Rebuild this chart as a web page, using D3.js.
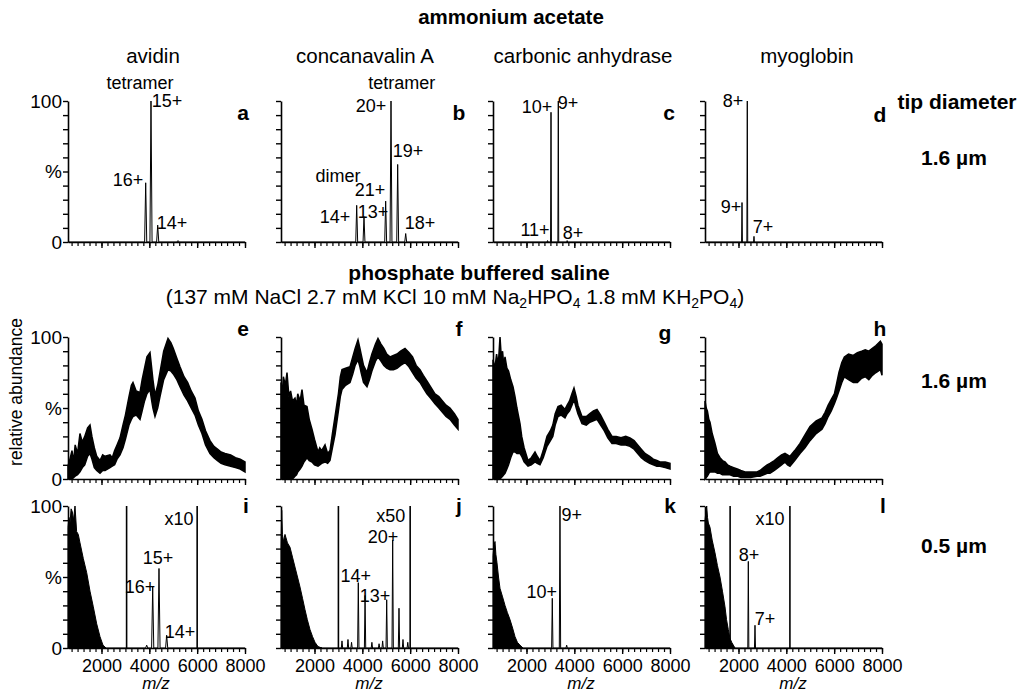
<!DOCTYPE html>
<html><head><meta charset="utf-8">
<script src="https://cdn.jsdelivr.net/npm/d3@7"></script>
<style>
body{margin:0;background:#fff}
svg text{font-family:"Liberation Sans",Arial,sans-serif;fill:#000}
</style>
</head><body>
<svg id="chart" width="1021" height="696"></svg>
<script>
// ---------------- DATA ----------------
const mzDomain = [600, 8000];
const xTickLabels = [2000, 4000, 6000, 8000];
const yTickValues = [0, 10, 20, 30, 40, 50, 60, 70, 80, 90, 100];
const columnNames = ["avidin", "concanavalin A", "carbonic anhydrase", "myoglobin"];
const panelLetters = ["a","b","c","d","e","f","g","h","i","j","k","l"];
const rowLabels = ["1.6 µm", "1.6 µm", "0.5 µm"];

// Row 1 (ammonium acetate) peaks: [m/z, relative %]
const peaksA = [[3848, 42], [4070, 100], [4350, 12], [5200, 1]];
const peaksB = [[3765, 26], [4070, 18], [4976, 29], [5199, 100], [5478, 55], [5813, 6]];
const peaksC = [[2880, 1], [3025, 92], [3330, 100], [3700, 1]];
const peaksD = [[2147, 28], [2368, 100], [2648, 4]];

// Row 2 (PBS, 1.6 µm) signal bands: [m/z, upper %, lower %]
const bandE = [[600,9,0],[680,14,0],[767,20,0],[830,12,1],[900,24,2],[1000,18,3],[1100,32,5],[1200,26,8],[1300,30,10],[1420,36,16],[1520,38,18],[1600,30,14],[1700,22,8],[1800,16,6],[1938,13,4],[2050,17,6],[2150,16,6],[2356,17,8],[2450,15,9],[2550,20,10],[2650,24,14],[2774,29,17],[2900,38,22],[3000,45,28],[3150,58,38],[3250,66,42],[3317,68,44],[3450,62,45],[3610,61,42],[3700,70,48],[3800,78,55],[3900,86,60],[4028,89,63],[4100,78,55],[4150,70,50],[4237,59,44],[4350,66,50],[4446,75,58],[4600,90,70],[4781,99,77],[4900,96,76],[5000,92,74],[5150,85,70],[5282,79,65],[5450,72,59],[5600,68,55],[5750,62,50],[5909,57,45],[6050,48,38],[6200,42,32],[6350,34,24],[6536,27,18],[6700,23,15],[6850,21,13],[7000,19,11],[7164,18,10],[7400,17,9],[7600,15,8],[7800,14,7],[8000,12,5]];
const bandF = [[600,68,0],[650,60,0],[700,72,0],[780,66,0],[851,75,0],[930,58,0],[1000,62,0],[1080,55,0],[1185,57,2],[1250,52,3],[1300,60,5],[1400,55,7],[1478,63,9],[1560,52,12],[1687,51,15],[1780,42,13],[1896,35,12],[2000,28,10],[2147,19,9],[2220,22,10],[2300,20,11],[2440,24,12],[2550,18,11],[2648,20,13],[2750,32,22],[2858,44,31],[3000,60,48],[3080,72,58],[3150,77,63],[3300,78,66],[3485,79,68],[3600,86,74],[3700,92,80],[3819,98,84],[3900,92,79],[3950,88,75],[4050,80,68],[4195,75,65],[4300,82,70],[4400,88,76],[4550,95,83],[4655,99,86],[4780,95,83],[4900,92,80],[5020,88,78],[5157,86,77],[5300,87,77],[5450,88,78],[5600,90,80],[5784,92,82],[5950,89,79],[6100,86,75],[6250,80,71],[6411,77,68],[6550,73,64],[6700,69,60],[6850,65,57],[7038,60,53],[7200,58,50],[7350,55,47],[7500,52,44],[7665,50,42],[7850,46,38],[8000,42,35]];
const bandG = [[600,84,0],[680,78,0],[750,88,0],[820,80,0],[893,100,0],[950,85,1],[1000,90,2],[1050,80,3],[1102,86,4],[1180,78,7],[1250,76,10],[1340,70,15],[1436,65,19],[1520,58,19],[1600,50,18],[1729,39,18],[1800,30,16],[1900,22,12],[2063,13,9],[2200,15,10],[2356,19,12],[2450,16,11],[2565,13,10],[2700,20,15],[2858,30,23],[3000,34,27],[3100,38,30],[3200,46,38],[3317,51,44],[3450,52,45],[3610,49,43],[3700,52,46],[3800,55,48],[3900,60,52],[3986,64,56],[4080,58,50],[4150,52,46],[4321,44,39],[4500,44,38],[4650,46,40],[4800,48,41],[4948,49,42],[5100,45,38],[5250,40,34],[5400,35,29],[5575,30,25],[5750,30,25],[5950,29,24],[6150,30,24],[6327,29,23],[6500,27,21],[6650,24,18],[6800,21,15],[6955,18,13],[7150,16,11],[7300,14,10],[7450,13,9],[7582,12,9],[7800,12,8],[8000,11,7]];
const bandH = [[600,55,0],[650,50,1],[700,48,2],[760,42,4],[809,40,5],[900,32,5],[1018,25,5],[1120,18,4],[1227,15,4],[1330,13,3],[1436,12,3],[1540,10,3],[1645,9,3],[1800,8,2],[1950,7,2],[2100,6,1],[2272,5,1],[2500,5,1],[2774,5,2],[2900,6,2],[3050,8,3],[3200,10,4],[3317,11,4],[3500,13,6],[3650,15,8],[3800,17,10],[3944,18,12],[4050,17,10],[4153,16,9],[4350,20,13],[4572,25,18],[4780,31,22],[4990,37,27],[5250,41,32],[5491,43,35],[5620,47,39],[5750,52,44],[5880,56,48],[6009,60,53],[6100,67,57],[6200,75,62],[6320,82,68],[6427,86,72],[6600,88,70],[6800,87,68],[6971,89,68],[7150,90,71],[7300,91,72],[7450,90,70],[7598,92,73],[7750,94,75],[7932,97,77],[8000,95,73]];

// Row 3 (PBS, 0.5 µm) low m/z envelopes: [m/z, %]
const envI = [[600,85],[640,92],[684,88],[730,98],[780,96],[830,90],[893,100],[960,82],[1030,80],[1102,74],[1240,63],[1382,53],[1520,40],[1658,29],[1800,17],[1938,8],[2063,2],[2189,0]];
const envJ = [[600,70],[629,97],[660,80],[700,75],[767,80],[870,74],[976,71],[1080,64],[1185,57],[1290,50],[1394,43],[1500,35],[1603,27],[1700,20],[1812,13],[1920,8],[2021,4],[2147,1],[2314,0]];
const envK = [[600,65],[640,72],[684,75],[720,66],[767,60],[830,50],[893,42],[1000,36],[1102,30],[1200,25],[1311,20],[1420,14],[1520,8],[1620,4],[1729,2],[1854,0]];
const envL = [[600,90],[640,96],[671,100],[705,92],[740,88],[809,85],[900,76],[1018,67],[1120,58],[1227,50],[1330,40],[1436,29],[1500,20],[1574,13],[1640,7],[1716,4],[1854,0]];

// Row 3 peaks: [m/z, %]
const peaksI = [[3890, 2], [4141, 43], [4404, 56], [4725, 9]];
const peaksJ = [[3150,5],[3400,6],[3550,4],[3832,46],[4114,37],[4400,4],[4700,3],[4850,5],[5019,34],[5269,76],[5533,28],[5700,6],[5900,4]];
const peaksK = [[3079, 35], [3400, 100], [3680, 2]];
const peaksL = [[2411, 61], [2690, 16]];

// magnification window borders (m/z)
const zoomLinesI = [3050, 6000];
const zoomLinesJ = [3000, 6000];
const zoomLinesL = [1650, 4150];

// annotations: [text, m/z, %]
const labelsA = [["tetramer",3610,113],["16+",3108,44],["15+",4739,100],["14+",4948,14]];
const labelsB = [["tetramer",5646,113],["20+",4363,97],["19+",5909,65],["dimer",2983,47.5],["21+",4321,37],["14+",2858,18],["13+",4446,21.5],["18+",6411,13.5]];
const labelsC = [["10+",2439,96],["9+",3735,98.6],["11+",2356,8.5],["8+",3944,6.4]];
const labelsD = [["8+",1771,100],["9+",1687,25],["7+",3025,11]];
const labelsI = [["x10",5240,91.5],["15+",4363,63.4],["16+",3610,43],["14+",5282,11.3]];
const labelsJ = [["x50",5186,93],["20+",4864,78.5],["14+",3723,50.7],["13+",4530,37.3]];
const labelsK = [["10+",2636,39.6],["9+",3890,93.7]];
const labelsL = [["x10",3317,91.5],["8+",2439,65.5],["7+",3108,21]];

// ---------------- LAYOUT ----------------
const svg = d3.select("#chart");
const colX = [68, 281, 493, 705];
const plotW = 177;
const rowTop = [101, 337, 506];
const rowH = [141, 142, 142];

const panels = [
  {peaks: peaksA, w: 45, labels: labelsA},
  {peaks: peaksB, w: 40, labels: labelsB},
  {peaks: peaksC, w: 18, labels: labelsC},
  {peaks: peaksD, w: 18, labels: labelsD},
  {band: bandE, labels: []},
  {band: bandF, labels: []},
  {band: bandG, labels: []},
  {band: bandH, labels: []},
  {env: envI, peaks: peaksI, w: 45, lines: zoomLinesI, labels: labelsI},
  {env: envJ, peaks: peaksJ, w: 28, lines: zoomLinesJ, labels: labelsJ},
  {env: envK, peaks: peaksK, w: 28, labels: labelsK},
  {env: envL, peaks: peaksL, w: 22, lines: zoomLinesL, labels: labelsL}
];
const letterPos = [[243,112],[459,112],[669,112],[880,114],[243,328],[459,328],[665,332],[880,328],[246,505],[459,505],[670,505],[883,505]];

const minorTicks = d3.range(750, 8001, 250);

panels.forEach((p, i) => {
  const r = Math.floor(i / 4), c = i % 4;
  const x = d3.scaleLinear().domain(mzDomain).range([colX[c], colX[c] + plotW]);
  const y = d3.scaleLinear().domain([0, 100]).range([rowTop[r] + rowH[r], rowTop[r]]);
  const g = svg.append("g");

  if (p.band) {
    g.append("path").datum(p.band)
      .attr("d", d3.area().x(d => x(d[0])).y0(d => y(d[2])).y1(d => y(d[1])))
      .attr("fill", "#000").attr("stroke", "#000").attr("stroke-width", 1.5);
  }
  if (p.env) {
    g.append("path").datum(p.env)
      .attr("d", d3.area().x(d => x(d[0])).y0(y(0)).y1(d => y(d[1])))
      .attr("fill", "#000").attr("stroke", "#000").attr("stroke-width", 1);
  }
  if (p.peaks) {
    const pts = [[mzDomain[0], 0]];
    p.peaks.forEach(([m, h]) => { pts.push([m - p.w, 0], [m, h], [m + p.w, 0]); });
    pts.push([mzDomain[1], 0]);
    g.append("path").datum(pts)
      .attr("d", d3.line().x(d => x(d[0])).y(d => y(d[1])))
      .attr("fill", "none").attr("stroke", "#000").attr("stroke-width", 1);
  }
  if (p.lines) {
    g.selectAll("line.zl").data(p.lines).join("line")
      .attr("x1", d => x(d)).attr("x2", d => x(d))
      .attr("y1", y(0)).attr("y2", y(100))
      .attr("stroke", "#000").attr("stroke-width", 1.6);
  }
  g.selectAll("text.lab").data(p.labels).join("text")
    .attr("x", d => x(d[1])).attr("y", d => y(d[2]))
    .attr("dy", "0.36em").attr("text-anchor", "middle")
    .attr("font-size", 18).text(d => d[0]);

  // y axis
  const yAxis = d3.axisLeft(y).tickValues(yTickValues).tickSize(5).tickSizeOuter(0)
    .tickFormat(v => c === 0 ? (v === 100 ? "100" : v === 50 ? "%" : v === 0 ? "0" : "") : "");
  const ya = g.append("g").attr("transform", `translate(${colX[c]},0)`).call(yAxis);
  ya.select(".domain").attr("stroke-width", 1.6);
  ya.selectAll(".tick line").attr("stroke-width", 1.4);
  ya.selectAll("text").attr("font-size", 19).attr("x", -6).attr("font-family", "Liberation Sans, Arial, sans-serif");

  // x axis (minor)
  const xa = g.append("g").attr("transform", `translate(0,${y(0)})`)
    .call(d3.axisBottom(x).tickValues(minorTicks).tickSize(4).tickSizeOuter(0).tickFormat(""));
  xa.select(".domain").attr("stroke-width", 1.6);
  xa.selectAll(".tick line").attr("stroke-width", 1.2);
  const xm = g.append("g").attr("transform", `translate(0,${y(0)})`)
    .call(d3.axisBottom(x).tickValues(xTickLabels).tickSize(6).tickSizeOuter(0).tickFormat(r === 2 ? d3.format("d") : ""));
  xm.select(".domain").remove();
  xm.selectAll(".tick line").attr("stroke-width", 1.4);
  xm.selectAll("text").attr("font-size", 18).attr("y", 11).attr("font-family", "Liberation Sans, Arial, sans-serif");
  if (r === 2) {
    g.append("text").attr("x", colX[c] + 88).attr("y", 689)
      .attr("text-anchor", "middle").attr("font-size", 17).attr("font-style", "italic").text("m/z");
  }

  g.append("text").attr("x", letterPos[i][0]).attr("y", letterPos[i][1]).attr("dy", "0.36em")
    .attr("text-anchor", "middle").attr("font-weight", "bold").attr("font-size", 21).text(panelLetters[i]);
});

// headers
svg.append("text").attr("x", 511).attr("y", 24).attr("text-anchor", "middle")
  .attr("font-weight", "bold").attr("font-size", 20.5).text("ammonium acetate");
const headerX = [153, 365, 583, 807];
svg.selectAll("text.col").data(columnNames).join("text")
  .attr("x", (d, i) => headerX[i]).attr("y", 63).attr("text-anchor", "middle")
  .attr("font-size", 20.5).text(d => d);

svg.append("text").attr("x", 957).attr("y", 109).attr("text-anchor", "middle")
  .attr("font-weight", "bold").attr("font-size", 21).text("tip diameter");
const rowLabelY = [157, 380, 545];
svg.selectAll("text.rl").data(rowLabels).join("text")
  .attr("x", 954).attr("y", (d, i) => rowLabelY[i]).attr("dy", "0.36em").attr("text-anchor", "middle")
  .attr("font-weight", "bold").attr("font-size", 21).text(d => d);

svg.append("text").attr("x", 479).attr("y", 280).attr("text-anchor", "middle")
  .attr("font-weight", "bold").attr("font-size", 21).text("phosphate buffered saline");

const sub = svg.append("text").attr("x", 455).attr("y", 304).attr("text-anchor", "middle").attr("font-size", 21);
const subParts = [["(137 mM NaCl 2.7 mM KCl 10 mM Na", 0], ["2", 1], ["HPO", 0], ["4", 1], [" 1.8 mM KH", 0], ["2", 1], ["PO", 0], ["4", 1], [")", 0]];
subParts.forEach(([t, s]) => {
  const ts = sub.append("tspan").text(t);
  if (s) ts.attr("baseline-shift", "-25%").attr("font-size", 14);
});

svg.append("text").attr("transform", "translate(22,392) rotate(-90)").attr("text-anchor", "middle")
  .attr("font-size", 17.5).text("relative abundance");
</script>
</body></html>
